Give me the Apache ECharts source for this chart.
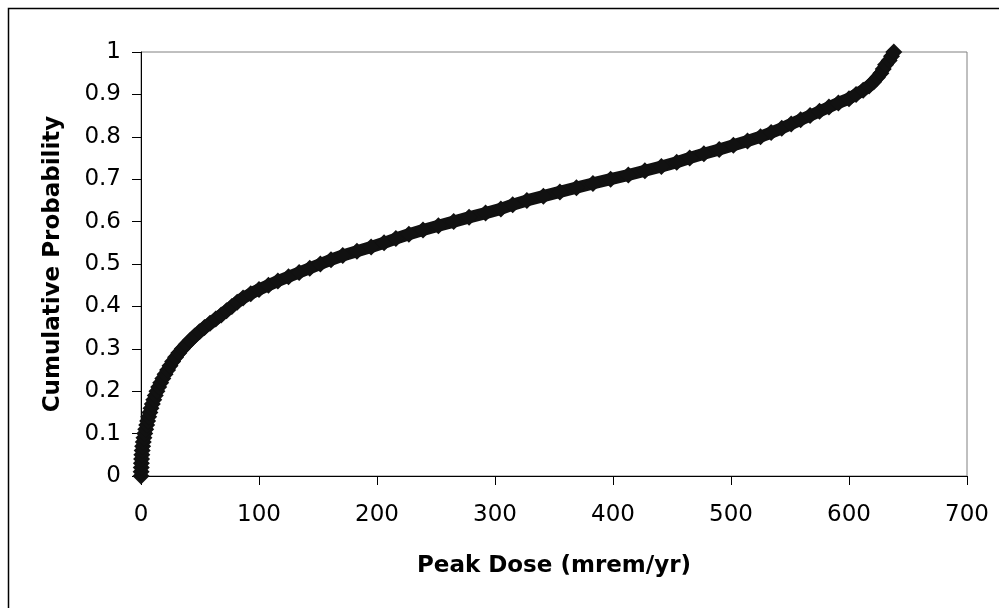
<!DOCTYPE html>
<html>
<head>
<meta charset="utf-8">
<script src="https://cdn.jsdelivr.net/npm/echarts@6/dist/echarts.min.js"></script>
<style>
html,body{margin:0;padding:0;background:#fff;}
#chart{width:999px;height:608px;}
</style>
</head>
<body>
<div id="chart"></div>
<script>
// Cumulative probability levels
var probability = [
  0.00,0.01,0.02,0.03,0.04,0.05,0.06,0.07,0.08,0.09,
  0.10,0.11,0.12,0.13,0.14,0.15,0.16,0.17,0.18,0.19,
  0.20,0.21,0.22,0.23,0.24,0.25,0.26,0.27,0.28,0.29,
  0.30,0.31,0.32,0.33,0.34,0.35,0.36,0.37,0.38,0.39,
  0.40,0.41,0.42,0.43,0.44,0.45,0.46,0.47,0.48,0.49,
  0.50,0.51,0.52,0.53,0.54,0.55,0.56,0.57,0.58,0.59,
  0.60,0.61,0.62,0.63,0.64,0.65,0.66,0.67,0.68,0.69,
  0.70,0.71,0.72,0.73,0.74,0.75,0.76,0.77,0.78,0.79,
  0.80,0.81,0.82,0.83,0.84,0.85,0.86,0.87,0.88,0.89,
  0.90,0.91,0.92,0.93,0.94,0.95,0.96,0.97,0.98,0.99,
  1.00
];
// Peak dose (mrem/yr) at each probability level
var peakDose = [
  0,0.1,0.2,0.3,0.5,0.7,1.0,1.4,1.9,2.5,
  3.2,4.0,4.8,5.6,6.5,7.5,8.5,9.6,10.8,12.1,
  13.5,15.0,16.7,18.5,20.4,22.5,24.6,26.8,29.3,32.0,
  35.0,38.3,41.8,45.5,49.5,53.8,58.5,63.3,68.0,72.5,
  77.0,81.5,86.5,93,100,108,116,125,134,143,
  152,161,171,183,195,206,216,227,239,252,
  265,278,292,305,315,327,341,355,369,383,
  398,413,427,441,454,465,477,490,502,514,
  525,534,543,551,559,567,575,583,591,600,
  606,612,617,621,624,627,629,631,634,636,
  638
];
var xTickLabels = ['0','100','200','300','400','500','600','700'];
var yTickLabels = ['0','0.1','0.2','0.3','0.4','0.5','0.6','0.7','0.8','0.9','1'];

var seriesData = peakDose.map(function (d, i) { return [d, probability[i]]; });

var chart = echarts.init(document.getElementById('chart'), null, {renderer: 'canvas'});
var font = 'DejaVu Sans';
chart.setOption({
  animation: false,
  backgroundColor: '#ffffff',
  graphic: [{
    type: 'rect',
    shape: {x: 8.5, y: 8.5, width: 1200, height: 1200},
    style: {fill: null, stroke: '#000', lineWidth: 1.5},
    silent: true, z: -10
  }],
  grid: {
    left: 141, right: 32, top: 52, bottom: 132,
    show: true, borderColor: '#808080', borderWidth: 1, backgroundColor: 'transparent'
  },
  xAxis: {
    type: 'value', min: 0, max: 700, interval: 100,
    name: 'Peak Dose (mrem/yr)', nameLocation: 'middle', nameGap: 79,
    nameTextStyle: {fontFamily: font, fontWeight: 'bold', fontSize: 23, color: '#000'},
    axisLine: {show: true, onZero: false, lineStyle: {color: '#000', width: 1}},
    axisTick: {show: true, length: 9, lineStyle: {color: '#000'}},
    axisLabel: {fontFamily: font, fontSize: 23, color: '#000', margin: 28,
      formatter: function (v) { return xTickLabels[Math.round(v / 100)]; }},
    splitLine: {show: false}
  },
  yAxis: {
    type: 'value', min: 0, max: 1, interval: 0.1,
    name: 'Cumulative Probability', nameLocation: 'middle', nameGap: 76,
    nameTextStyle: {fontFamily: font, fontWeight: 'bold', fontSize: 23, color: '#000'},
    axisLine: {show: true, onZero: false, lineStyle: {color: '#000', width: 1}},
    axisTick: {show: true, length: 9, lineStyle: {color: '#000'}},
    axisLabel: {fontFamily: font, fontSize: 23, color: '#000', margin: 20,
      formatter: function (v) { return yTickLabels[Math.round(v * 10)]; }},
    splitLine: {show: false}
  },
  series: [{
    type: 'line',
    data: seriesData,
    symbol: 'diamond',
    symbolSize: 17,
    showAllSymbol: true,
    clip: false,
    lineStyle: {color: '#111', width: 12},
    itemStyle: {color: '#111', borderColor: '#111', borderWidth: 0}
  }]
});
</script>
</body>
</html>
